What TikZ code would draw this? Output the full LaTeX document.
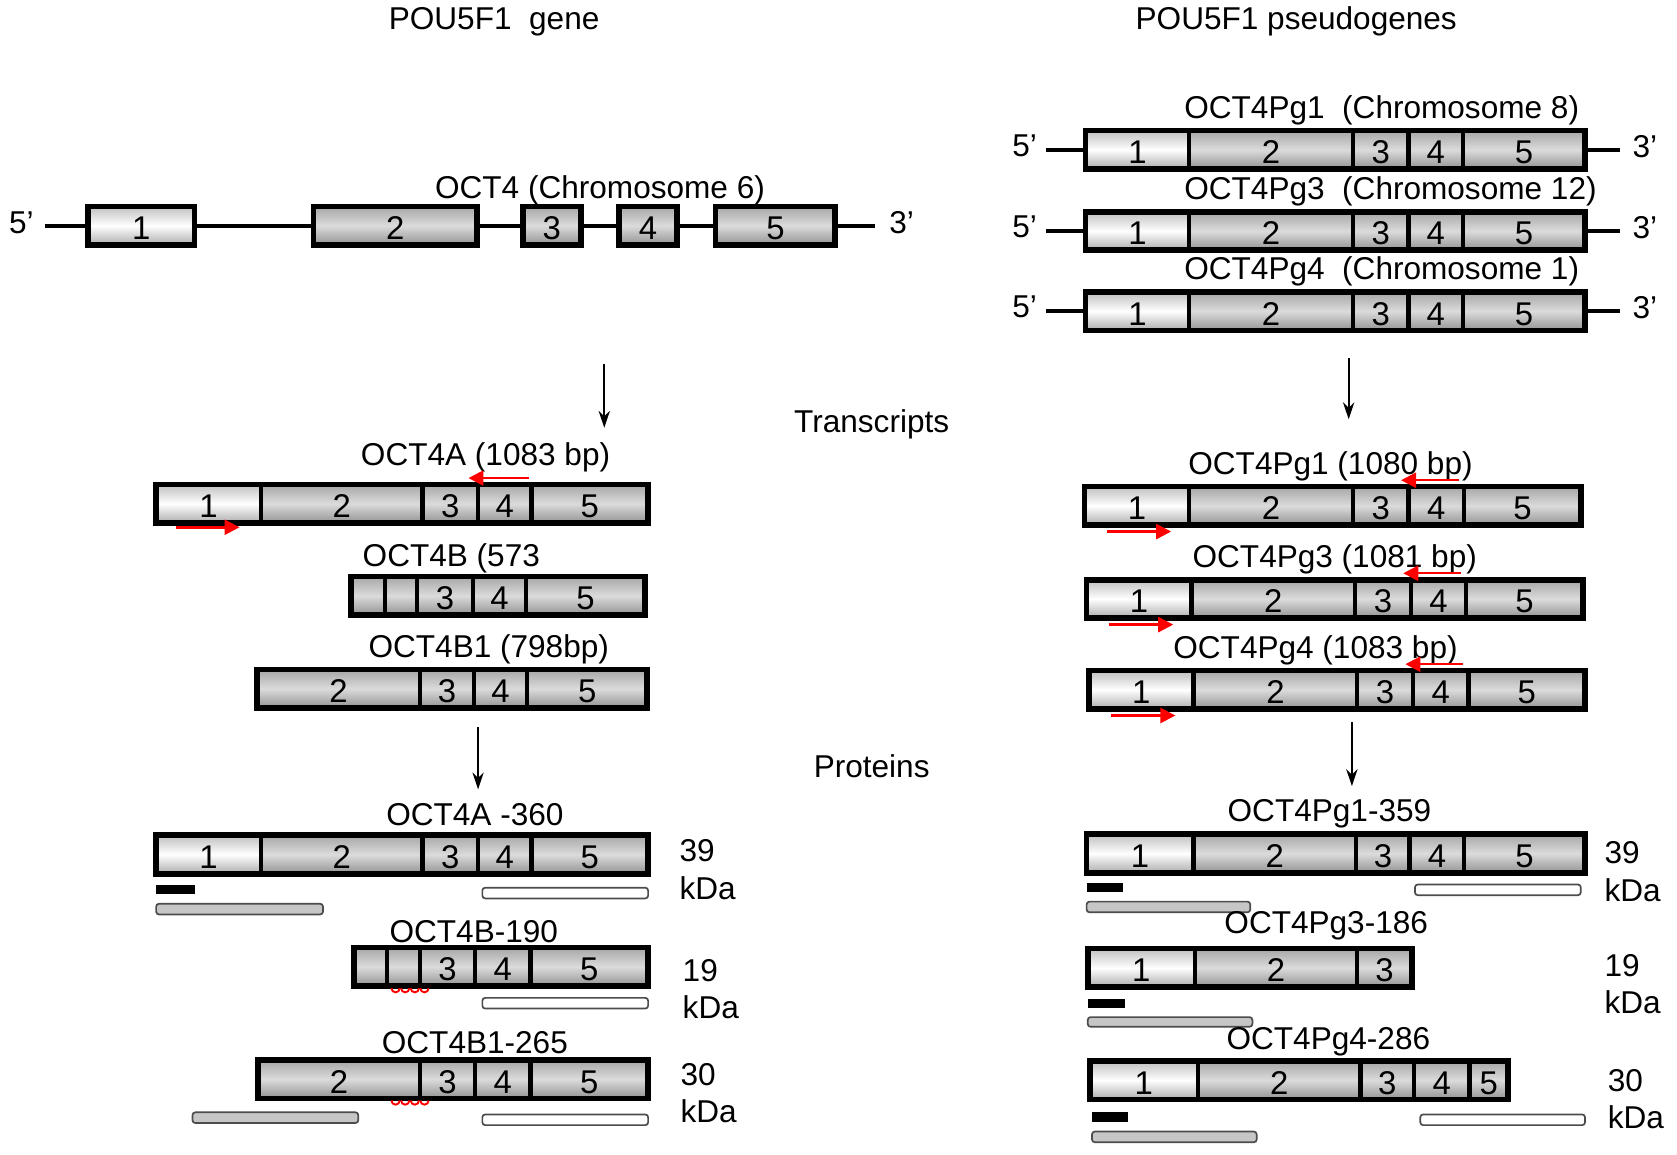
\documentclass[tikz,border=0pt]{standalone}
\usepackage{fontspec}
\setmainfont{Liberation Sans}
\usetikzlibrary{arrows.meta,positioning}

\begin{document}
\begin{tikzpicture}[
    x=0.02cm, y=-0.02cm,
    font=\fontsize{16.8}{19.8}\selectfont,
    exon/.style={draw, line width=2.3pt, outer sep=0pt, inner sep=0pt, anchor=west,
      minimum height=0.72cm, text depth=0pt, text height=0.52cm,
      font=\fontsize{17.5}{19}\selectfont,
      top color=gray!70, bottom color=gray!85, middle color=gray!28},
    exfirst/.style={exon, top color=gray!50, bottom color=gray!65, middle color=white},
    outline/.style={line width=3pt},
    intron/.style={line width=2pt},
    lbl/.style={inner sep=0pt},
    kda/.style={align=left, anchor=west, inner sep=0pt},
    flow/.style={-{Stealth[length=9pt,width=6pt]}, line width=0.9pt},
    primer/.style={-{Triangle[length=8pt,width=8pt]}, red, line width=1.3pt},
    blackbar/.style={fill=black},
    graybar/.style={draw=black!70, fill=gray!45, line width=0.9pt, rounded corners=1.5pt},
    whitebar/.style={draw=black!70, fill=white, line width=0.9pt, rounded corners=1.5pt},
    splice/.style={red, line width=1pt}
  ]
  \useasboundingbox (0,0) rectangle (1568,1079);

  % titoli
  \node[lbl] (gene) at (462,20) {POU5F1\ \ gene};
  \node[lbl] (pseudo) at (1212,20) {POU5F1 pseudogenes};
  \node[lbl] (trans) at (815,397) {Transcripts};
  \node[lbl] (prot) at (815,716) {Proteins};

  % gene OCT4
  \coordinate (g5) at (42,211);
  \coordinate (g3) at (818,211);
  \draw[intron] (g5) -- (g3);
  \foreach \xa/\xb/\n/\s in {82/182/1/exfirst, 293/446/2/exon, 489/543/3/exon, 579/633/4/exon, 669/781/5/exon}
    \node[\s, line width=3pt, minimum width={(\xb-\xa)*0.02cm}] (g\n) at (\xa,211) {\n};
  \node[lbl] (gname) at (561,178) {OCT4 (Chromosome 6)};
  \node[lbl] (g5t) at (20,208) {5’};
  \node[lbl] (g3t) at (843,208) {3’};

  % pseudogeni
  \foreach \r/\y/\c in {1/140/8, 3/216/12, 4/291/1} {
    \coordinate (p\r-a) at (978,\y);
    \coordinate (p\r-b) at (1515,\y);
    \draw[intron] (p\r-a) -- (p\r-b);
    \foreach \xa/\xb/\n/\s in {1015/1112/1/exfirst, 1112/1265/2/exon, 1265/1317/3/exon, 1317/1368/4/exon, 1368/1482/5/exon}
      \node[\s, minimum width={(\xb-\xa)*0.02cm}] (p\r-\n) at (\xa,\y) {\n};
    \draw[outline] (p\r-1.north west) rectangle (p\r-5.south east);
    \node[lbl, anchor=west] (p\r-name) at (1107,\y-37) {OCT4Pg\r\ \ (Chromosome \c)};
    \node[lbl] (p\r-5t) at (958,\y-4) {5’};
    \node[lbl] (p\r-3t) at (1538,\y-3) {3’};
  }

  % frecce
  \coordinate (fa) at (565,340); \coordinate (fb) at (565,400);
  \coordinate (fc) at (447,680); \coordinate (fd) at (447,738);
  \coordinate (fe) at (1261,335); \coordinate (ff) at (1261,392);
  \coordinate (fg) at (1264,675); \coordinate (fh) at (1264,735);
  \draw[flow] (fa) -- (fb);
  \draw[flow] (fc) -- (fd);
  \draw[flow] (fe) -- (ff);
  \draw[flow] (fg) -- (fh);

  % trascritti OCT4
  \foreach \xa/\xb/\n/\s in {146/244/1/exfirst, 244/395/2/exon, 395/447/3/exon, 447/497/4/exon, 497/606/5/exon}
    \node[\s, minimum width={(\xb-\xa)*0.02cm}] (ta\n) at (\xa,471) {\n};
  \draw[outline] (ta1.north west) rectangle (ta5.south east);
  \node[lbl] (taname) at (454,428) {OCT4A (1083 bp)};
  \coordinate (taf1) at (165,493); \coordinate (taf2) at (224,493);
  \coordinate (tar1) at (495,447); \coordinate (tar2) at (438,447);
  \draw[primer] (taf1) -- (taf2);
  \draw[primer] (tar1) -- (tar2);

  \foreach \xa/\xb/\n [count=\i] in {328/360/{}, 360/390/{}, 390/442/3, 442/492/4, 492/603/5}
    \node[exon, minimum width={(\xb-\xa)*0.02cm}] (tb\i) at (\xa,557) {\n};
  \draw[outline] (tb1.north west) rectangle (tb5.south east);
  \node[lbl] (tbname) at (422,522) {OCT4B (573};

  \foreach \xa/\xb/\n [count=\i] in {240/393/2, 393/443/3, 443/493/4, 493/605/5}
    \node[exon, minimum width={(\xb-\xa)*0.02cm}] (tc\i) at (\xa,644) {\n};
  \draw[outline] (tc1.north west) rectangle (tc4.south east);
  \node[lbl] (tcname) at (457,607) {OCT4B1 (798bp)};

  % trascritti pseudogeni
  \foreach \r/\y/\dx/\len/\lx in {1/473/0/1080/1244, 3/560/2/1081/1248, 4/645/4/1083/1230} {
    \foreach \xa/\xb/\n/\s in {1014/1112/1/exfirst, 1112/1265/2/exon, 1265/1317/3/exon, 1317/1369/4/exon, 1369/1478/5/exon}
      \node[\s, minimum width={(\xb-\xa)*0.02cm}] (q\r-\n) at (\xa+\dx,\y) {\n};
    \draw[outline] (q\r-1.north west) rectangle (q\r-5.south east);
    \node[lbl] (q\r-name) at (\lx,\y-37) {OCT4Pg\r{} (\len{} bp)};
    \coordinate (q\r-f1) at (1035+\dx,\y+24); \coordinate (q\r-f2) at (1095+\dx,\y+24);
    \coordinate (q\r-r1) at (1364+\dx,\y-24); \coordinate (q\r-r2) at (1310+\dx,\y-24);
    \draw[primer] (q\r-f1) -- (q\r-f2);
    \draw[primer] (q\r-r1) -- (q\r-r2);
  }

  % proteine OCT4
  \foreach \xa/\xb/\n/\s in {146/244/1/exfirst, 244/395/2/exon, 395/447/3/exon, 447/497/4/exon, 497/606/5/exon}
    \node[\s, minimum width={(\xb-\xa)*0.02cm}] (pa\n) at (\xa,799) {\n};
  \draw[outline] (pa1.north west) rectangle (pa5.south east);
  \node[lbl] (paname) at (444,762) {OCT4A -360};
  \node[kda] (pakda) at (635,813) {39\\kDa};
  \fill[blackbar] (146,827) rectangle (182,836);
  \draw[graybar] (146,845) rectangle (302,855);
  \draw[whitebar] (451,830) rectangle (606,840);

  \foreach \xa/\xb/\n [count=\i] in {331/362/{}, 362/393/{}, 393/444/3, 444/496/4, 496/606/5}
    \node[exon, minimum width={(\xb-\xa)*0.02cm}] (pb\i) at (\xa,904) {\n};
  \draw[outline] (pb1.north west) rectangle (pb5.south east);
  \node[lbl] (pbname) at (443,871) {OCT4B-190};
  \node[kda] (pbkda) at (638,925) {19\\kDa};
  \draw[whitebar] (451,933) rectangle (606,943);
  \foreach \k in {0,...,3}
    \draw[splice] (366+\k*9,924) arc (180:360:2.2pt);

  \foreach \xa/\xb/\n [count=\i] in {241/393/2, 393/444/3, 444/496/4, 496/606/5}
    \node[exon, minimum width={(\xb-\xa)*0.02cm}] (pc\i) at (\xa,1009) {\n};
  \draw[outline] (pc1.north west) rectangle (pc4.south east);
  \node[lbl] (pcname) at (444,975) {OCT4B1-265};
  \node[kda] (pckda) at (636,1022) {30\\kDa};
  \draw[graybar] (180,1040) rectangle (335,1050);
  \draw[whitebar] (451,1042) rectangle (606,1052);
  \foreach \k in {0,...,3}
    \draw[splice] (366+\k*9,1029) arc (180:360:2.2pt);

  % proteine pseudogeni
  \foreach \xa/\xb/\n/\s in {1016/1116/1/exfirst, 1116/1268/2/exon, 1268/1318/3/exon, 1318/1369/4/exon, 1369/1482/5/exon}
    \node[\s, minimum width={(\xb-\xa)*0.02cm}] (ra\n) at (\xa,798) {\n};
  \draw[outline] (ra1.north west) rectangle (ra5.south east);
  \node[lbl] (raname) at (1243,761) {OCT4Pg1-359};
  \node[kda] (rakda) at (1500,815) {39\\kDa};
  \fill[blackbar] (1016,826) rectangle (1050,834);
  \draw[whitebar] (1323,827) rectangle (1478,837);
  \draw[graybar] (1016,843) rectangle (1169,853);

  \foreach \xa/\xb/\n/\s in {1017/1117/1/exfirst, 1117/1269/2/exon, 1269/1320/3/exon}
    \node[\s, minimum width={(\xb-\xa)*0.02cm}] (rb\n) at (\xa,905) {\n};
  \draw[outline] (rb1.north west) rectangle (rb3.south east);
  \node[lbl] (rbname) at (1240,866) {OCT4Pg3-186};
  \node[kda] (rbkda) at (1500,920) {19\\kDa};
  \fill[blackbar] (1017,934) rectangle (1052,942);
  \draw[graybar] (1017,951) rectangle (1171,960);

  \foreach \xa/\xb/\n/\s in {1019/1120/1/exfirst, 1120/1272/2/exon, 1272/1322/3/exon, 1322/1374/4/exon, 1374/1410/5/exon}
    \node[\s, minimum width={(\xb-\xa)*0.02cm}] (rc\n) at (\xa,1010) {\n};
  \draw[outline] (rc1.north west) rectangle (rc5.south east);
  \node[lbl] (rcname) at (1242,974) {OCT4Pg4-286};
  \node[kda] (rckda) at (1503,1028) {30\\kDa};
  \fill[blackbar] (1021,1040) rectangle (1055,1049);
  \draw[whitebar] (1328,1042) rectangle (1482,1052);
  \draw[graybar] (1021,1058) rectangle (1175,1068);

\end{tikzpicture}
\end{document}
